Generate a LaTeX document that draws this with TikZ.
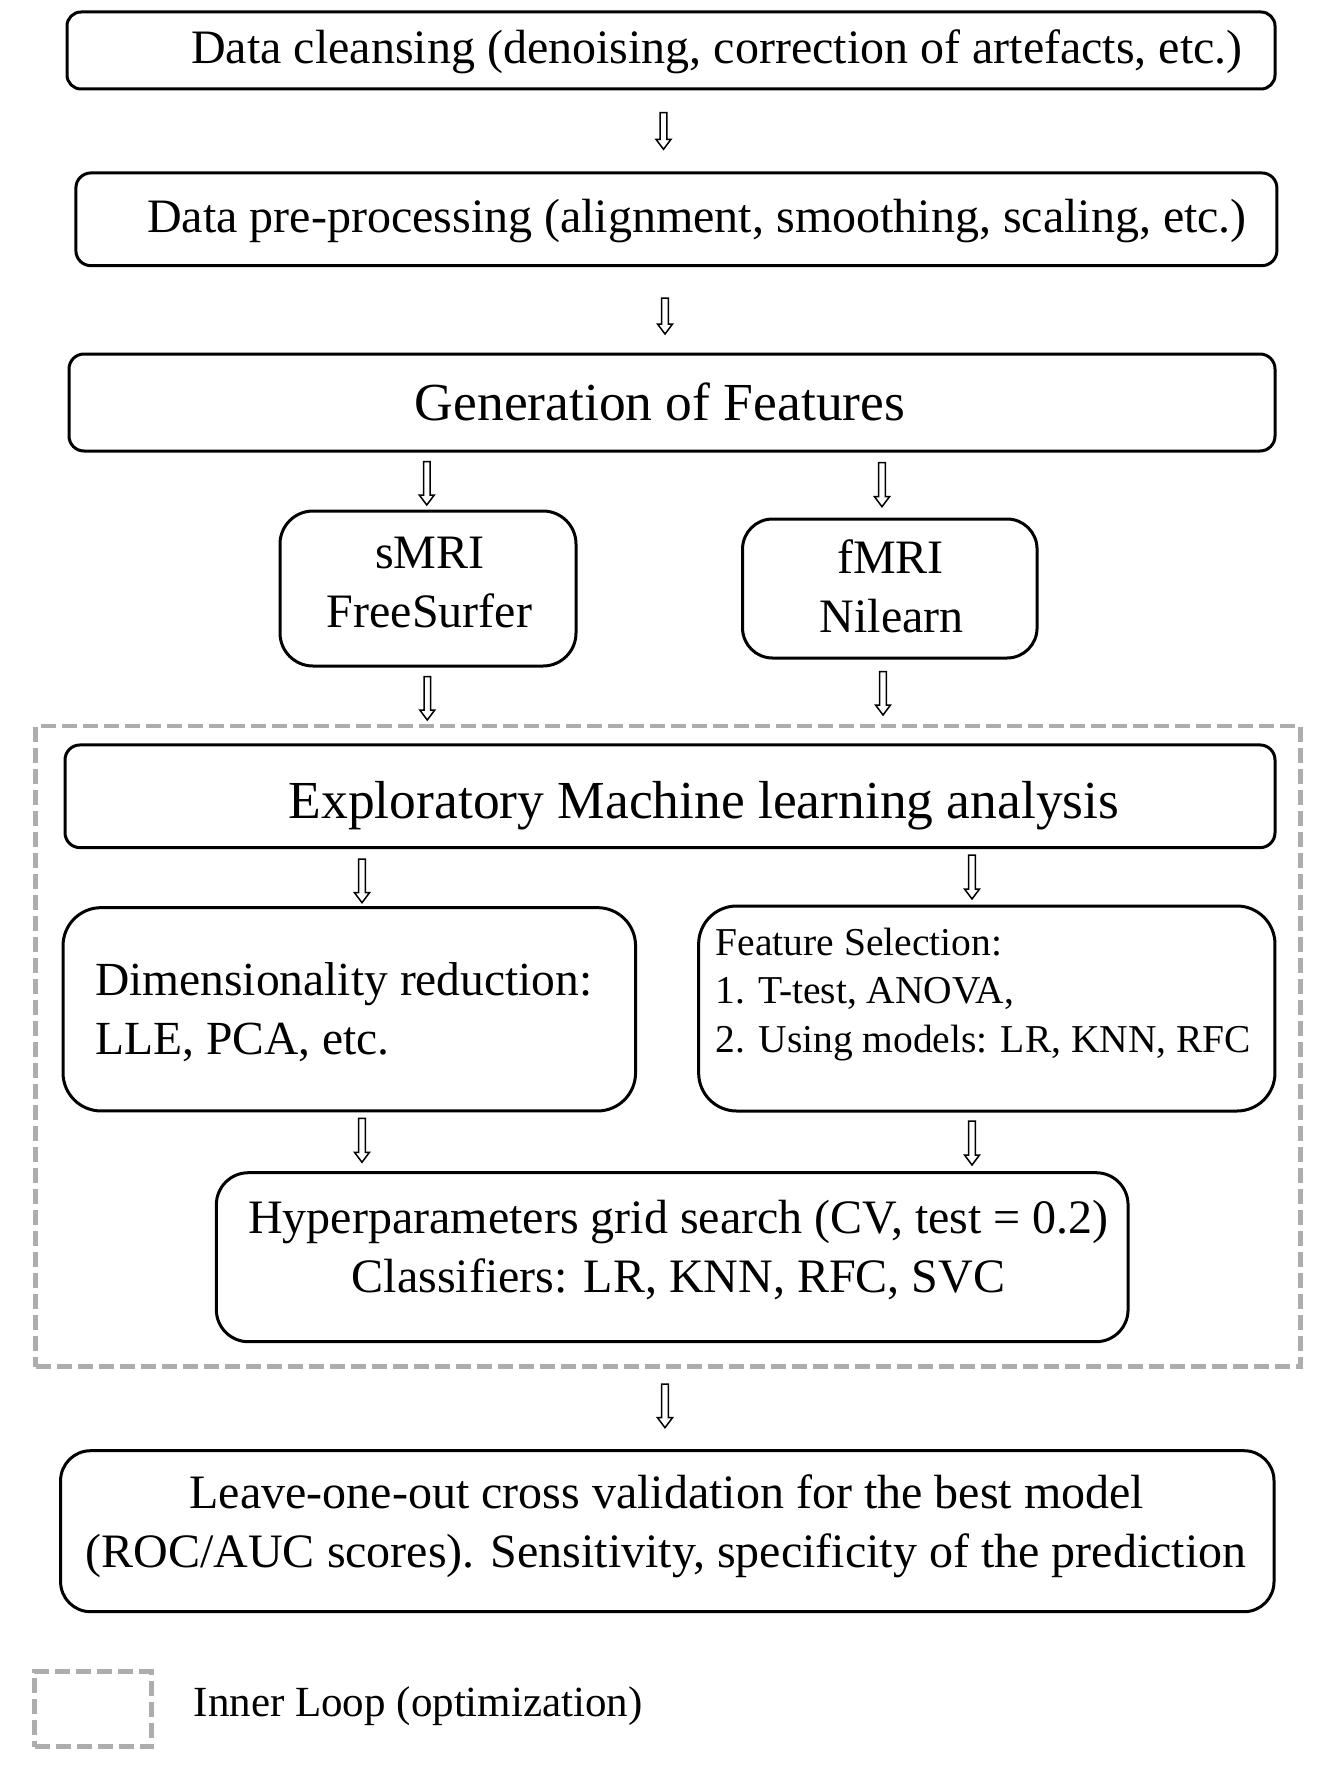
\documentclass[tikz,border=0pt]{standalone}
\usepackage{fontspec}
\setmainfont{Liberation Serif}
\usetikzlibrary{calc}
\tikzset{
  box/.style={draw=black, line width=3pt, rectangle, inner sep=0pt, outer sep=0pt},
  txt/.style={inner sep=0pt, anchor=base, text=black},
  txtl/.style={inner sep=0pt, anchor=base west, text=black},
  flowarrow/.style={draw=black, line width=1.5pt, fill=white, line join=miter},
  loopbox/.style={draw=black!32, line width=4.5pt, dash pattern=on 15pt off 6pt, rectangle, inner sep=0pt},
  big/.style={font=\fontsize{48}{58}\selectfont},
}
\newcommand\hollowdown[2]{%
  \path[flowarrow] let \p1=(#1), \p2=(#2) in
   (\x1-3.3pt,\y1) -- (\x1+3.3pt,\y1) -- (\x1+3.3pt,\y2+10pt) -- (\x1+7.5pt,\y2+10pt)
   -- (\x1,\y2) -- (\x1-7.5pt,\y2+10pt) -- (\x1-3.3pt,\y2+10pt) -- cycle;}
\begin{document}
\begin{tikzpicture}[x=1pt,y=-1pt]
\useasboundingbox (0,0) rectangle (1320,1766);
\fill[white] (0,0) rectangle (1320,1766);

% boxes
\node[box, rounded corners=14pt, minimum width=1208pt, minimum height=77pt] (b1) at (671,50.5) {};
\node[box, rounded corners=15pt, minimum width=1201pt, minimum height=92.7pt] (b2) at (676.4,219.3) {};
\node[box, rounded corners=15pt, minimum width=1206pt, minimum height=97pt] (b3) at (672,402.5) {};
\node[box, rounded corners=33pt, minimum width=296pt, minimum height=155pt] (smri) at (428,588.5) {};
\node[box, rounded corners=30pt, minimum width=294.5pt, minimum height=139pt] (fmri) at (889.8,588.5) {};
\node[loopbox, minimum width=1265pt, minimum height=640.5pt] (loop) at (668,1046.25) {};
\node[box, rounded corners=15pt, minimum width=1210pt, minimum height=102.7pt] (expl) at (670,796.3) {};
\node[box, rounded corners=38pt, minimum width=572.5pt, minimum height=203.3pt] (dim) at (349.3,1009.3) {};
\node[box, rounded corners=38pt, minimum width=576.3pt, minimum height=205pt] (feat) at (986.8,1008.5) {};
\node[box, rounded corners=32pt, minimum width=911.7pt, minimum height=169pt] (hyper) at (672.2,1257.2) {};
\node[box, rounded corners=30pt, minimum width=1213.4pt, minimum height=161pt] (loo) at (667.3,1531.2) {};
\node[loopbox, minimum width=116.8pt, minimum height=75pt] (legbox) at (93.1,1709.2) {};

% texts
\node[txt, big] (t1) at (717,64) {Data cleansing (denoising, correction of artefacts, etc.)};
\node[txt, big] (t2) at (697,232) {Data pre-processing (alignment, smoothing, scaling, etc.)};
\node[txt, font=\fontsize{53.5}{60}\selectfont] (t3) at (660,420) {Generation of Features};
\node[txt, big] (t4a) at (430,568) {sMRI};
\node[txt, big] (t4b) at (429.6,627) {FreeSurfer};
\node[txt, big] (t5a) at (890.6,573) {fMRI};
\node[txt, big] (t5b) at (891.7,632) {Nilearn};
\node[txt, font=\fontsize{53.5}{60}\selectfont] (t6) at (704,818) {Exploratory Machine learning analysis};
\node[txtl, font=\fontsize{47.5}{58}\selectfont] (t7a) at (95,995) {Dimensionality reduction:};
\node[txtl, font=\fontsize{47.5}{58}\selectfont] (t7b) at (95,1054) {LLE, PCA, etc.};
\node[txtl, font=\fontsize{39.5}{48}\selectfont] (t8a) at (715.5,955) {Feature Selection:};
\node[txtl, font=\fontsize{39.5}{48}\selectfont] (t8b) at (715.5,1003) {1. T-test, ANOVA,};
\node[txtl, font=\fontsize{39.5}{48}\selectfont] (t8c) at (715.5,1052) {2. Using models: LR, KNN, RFC};
\node[txt, big] (t9a) at (678.5,1233) {Hyperparameters grid search (CV, test = 0.2)};
\node[txt, big] (t9b) at (678.5,1292.5) {Classifiers: LR, KNN, RFC, SVC};
\node[txt, big] (t10a) at (666.8,1508.5) {Leave-one-out cross validation for the best model};
\node[txt, big] (t10b) at (666,1567) {(ROC/AUC scores). Sensitivity, specificity of the prediction};
\node[txtl, font=\fontsize{43}{50}\selectfont] (t11) at (193.5,1716) {Inner Loop (optimization)};

% arrows
\coordinate (a1s) at (663.5,112.7);  \coordinate (a1e) at (663.5,149.3);
\coordinate (a2s) at (665,298);      \coordinate (a2e) at (665,334);
\coordinate (a3s) at (426.8,461.7);  \coordinate (a3e) at (426.8,505);
\coordinate (a4s) at (882,462.7);    \coordinate (a4e) at (882,506.7);
\coordinate (a5s) at (427.3,676.7);  \coordinate (a5e) at (427.3,720);
\coordinate (a6s) at (883,671.7);    \coordinate (a6e) at (883,715);
\coordinate (a7s) at (362,859);      \coordinate (a7e) at (362,902.7);
\coordinate (a8s) at (972,855);      \coordinate (a8e) at (972,899);
\coordinate (a9s) at (362,1118.3);   \coordinate (a9e) at (362,1162.3);
\coordinate (a10s) at (972,1121);    \coordinate (a10e) at (972,1165);
\coordinate (a11s) at (665,1384);    \coordinate (a11e) at (665,1427.7);
\hollowdown{a1s}{a1e}
\hollowdown{a2s}{a2e}
\hollowdown{a3s}{a3e}
\hollowdown{a4s}{a4e}
\hollowdown{a5s}{a5e}
\hollowdown{a6s}{a6e}
\hollowdown{a7s}{a7e}
\hollowdown{a8s}{a8e}
\hollowdown{a9s}{a9e}
\hollowdown{a10s}{a10e}
\hollowdown{a11s}{a11e}
\end{tikzpicture}
\end{document}
